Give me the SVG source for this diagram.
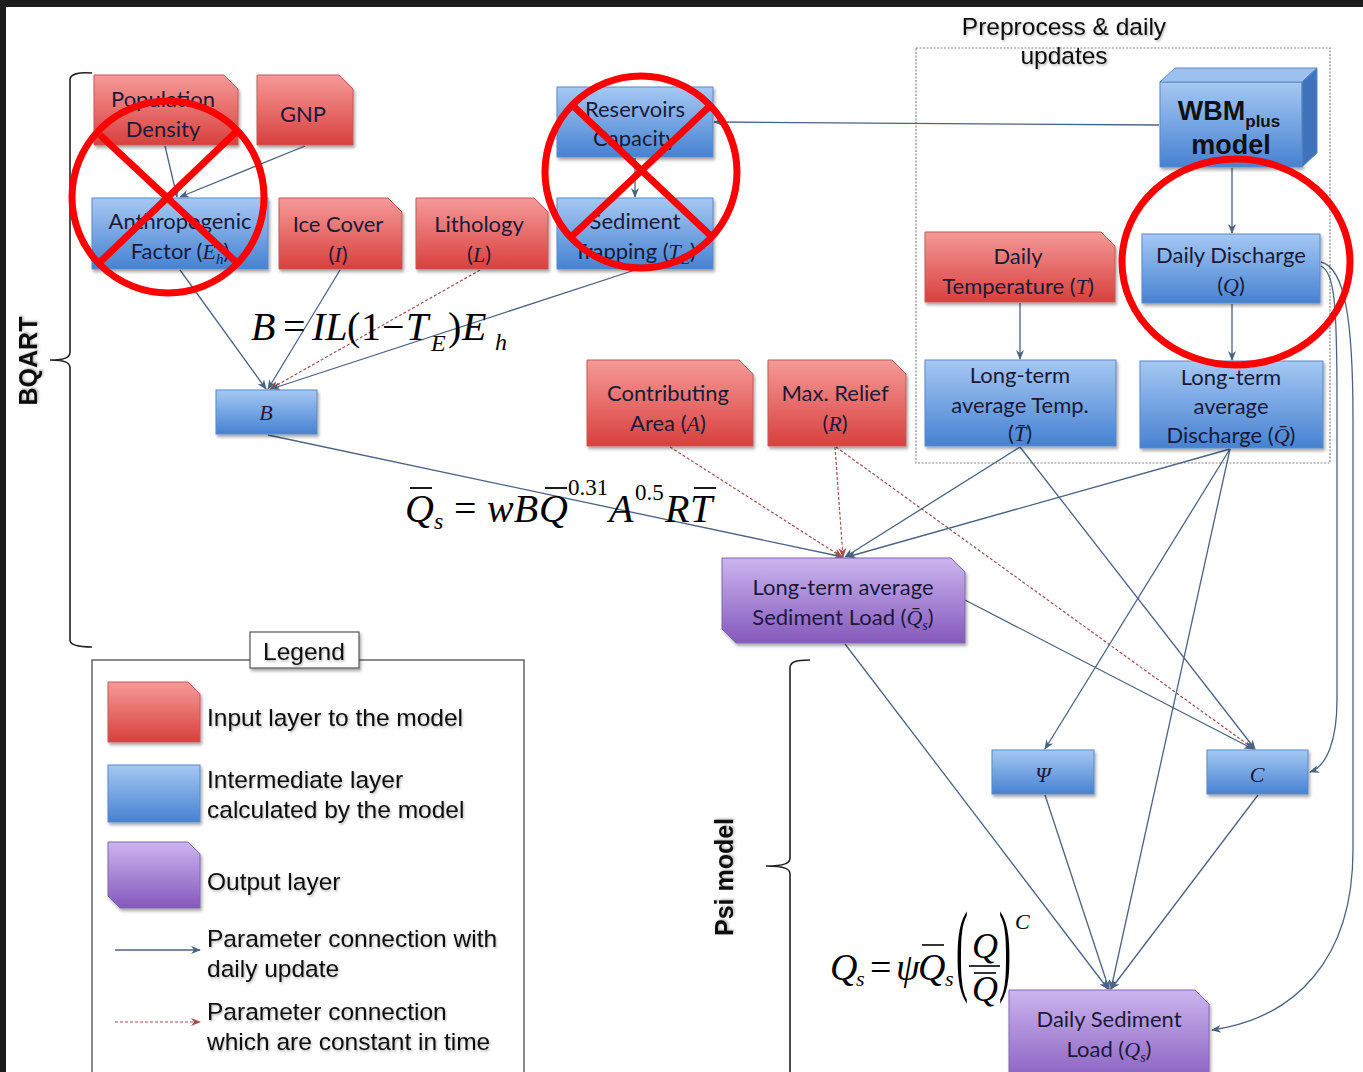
<svg xmlns="http://www.w3.org/2000/svg" width="1363" height="1072" viewBox="0 0 1363 1072">
<style>
.red{fill:url(#gRed);stroke:#c45a57;stroke-width:1;filter:url(#sh)}
.blue{fill:url(#gBlue);stroke:#5a8ac6;stroke-width:1;filter:url(#sh)}
.pur{fill:url(#gPur);stroke:#8466b2;stroke-width:1;filter:url(#sh)}
.nt{font-family:Lato,"Noto Sans",sans-serif;font-size:22px;fill:#1a1a38;text-anchor:middle}
.mi{font-family:"Liberation Serif",serif;font-style:italic}
.c{fill:none;stroke:#4b6383;stroke-width:1.3;marker-end:url(#arr)}
.d{fill:none;stroke:#a05050;stroke-width:1.2;stroke-dasharray:3 2;marker-end:url(#arrR)}
.lg{font-family:"Liberation Sans",Arial,sans-serif;font-size:24.5px;fill:#111;filter:url(#ts)}
.fm{font-family:"Liberation Serif","Times New Roman",serif;fill:#000}
.x{fill:none;stroke:#ff0000;stroke-width:7}
.br{fill:none;stroke:#222;stroke-width:1.6}
.bt{font-family:"Liberation Sans",Arial,sans-serif;font-size:25px;font-weight:bold;fill:#111;text-anchor:middle;filter:url(#ts)}
</style>
<defs>
<linearGradient id="gRed" x1="0" y1="0" x2="0" y2="1"><stop offset="0" stop-color="#f59a98"/><stop offset="1" stop-color="#d8403d"/></linearGradient>
<linearGradient id="gBlue" x1="0" y1="0" x2="0" y2="1"><stop offset="0" stop-color="#a6c8f3"/><stop offset="1" stop-color="#4682d2"/></linearGradient>
<linearGradient id="gPur" x1="0" y1="0" x2="0" y2="1"><stop offset="0" stop-color="#cbb5ee"/><stop offset="1" stop-color="#8458bc"/></linearGradient>
<filter id="sh" x="-10%" y="-10%" width="125%" height="130%"><feDropShadow dx="1.5" dy="2.5" stdDeviation="1.8" flood-color="#000" flood-opacity="0.35"/></filter>
<filter id="ts" x="-5%" y="-20%" width="110%" height="150%"><feDropShadow dx="1" dy="1.5" stdDeviation="1" flood-color="#000" flood-opacity="0.3"/></filter>
<marker id="arr" viewBox="0 0 10 10" refX="9" refY="5" markerWidth="10" markerHeight="10" markerUnits="userSpaceOnUse" orient="auto"><path d="M0,1 L10,5 L0,9 L3,5 z" fill="#4b6383"/></marker>
<marker id="arrR" viewBox="0 0 10 10" refX="9" refY="5" markerWidth="10" markerHeight="10" markerUnits="userSpaceOnUse" orient="auto"><path d="M0,1 L10,5 L0,9 L3,5 z" fill="#a05050"/></marker>
</defs>
<rect x="0" y="0" width="1363" height="1072" fill="#fff"/>
<rect x="0" y="0" width="1363" height="7" fill="#1c1c1c"/>
<rect x="0" y="0" width="6" height="1072" fill="#1c1c1c"/>

<g id="brackets">
<path class="br" d="M92,73 C78,72 70,74 70,80 V352 C70,357 66,360 50,360 C66,360 70,363 70,368 V640 C70,645 78,647 92,647"/>
<text class="bt" x="37" y="361" transform="rotate(-90 37 361)">BQART</text>
<path class="br" d="M810,660 C795,660 790,662 790,668 V858 C790,863 785,866 766,866 C785,866 790,869 790,874 V1072"/>
<text class="bt" x="733" y="877" transform="rotate(-90 733 877)">Psi model</text>
</g>

<g id="preprocess">
<rect x="916" y="48" width="414" height="415" fill="none" stroke="#888" stroke-width="1.2" stroke-dasharray="2 1.5"/>
<text class="lg" x="1064" y="35" text-anchor="middle">Preprocess &amp; daily</text>
<text class="lg" x="1064" y="64" text-anchor="middle">updates</text>
</g>

<g id="connectors">
<line class="c" x1="165" y1="146" x2="177" y2="197"/>
<line class="c" x1="305" y1="146" x2="180" y2="197"/>
<line class="c" x1="635" y1="158" x2="635" y2="197"/>
<line class="c" x1="1159" y1="125" x2="714" y2="122"/>
<line class="c" x1="1232" y1="168" x2="1232" y2="233"/>
<line class="c" x1="1020" y1="303" x2="1020" y2="359"/>
<line class="c" x1="1232" y1="304" x2="1232" y2="360"/>
<line class="c" x1="180" y1="270" x2="266" y2="389"/>
<line class="c" x1="340" y1="270" x2="268" y2="389"/>
<line class="d" x1="480" y1="270" x2="270" y2="389"/>
<line class="c" x1="635" y1="270" x2="271" y2="389"/>
<line class="c" x1="268" y1="435" x2="843" y2="557"/>
<line class="d" x1="670" y1="447" x2="842" y2="557"/>
<line class="d" x1="835" y1="447" x2="843" y2="557"/>
<line class="c" x1="1020" y1="447" x2="845" y2="557"/>
<line class="c" x1="1230" y1="449" x2="847" y2="557"/>
<line class="d" x1="836" y1="447" x2="1254" y2="749"/>
<line class="c" x1="1020" y1="447" x2="1255" y2="749"/>
<line class="c" x1="965" y1="600" x2="1253" y2="749"/>
<line class="c" x1="1230" y1="449" x2="1045" y2="749"/>
<line class="c" x1="1230" y1="449" x2="1111" y2="989"/>
<line class="c" x1="845" y1="644" x2="1108" y2="989"/>
<line class="c" x1="1045" y1="795" x2="1109" y2="989"/>
<line class="c" x1="1258" y1="795" x2="1111" y2="989"/>
<path class="c" d="M1321,266 C1334,272 1337,300 1337,400 L1337,700 C1337,740 1327,766 1310,772"/>
<path class="c" d="M1321,262 C1345,268 1353,320 1353,420 L1353,850 C1353,960 1295,1018 1212,1030"/>
</g>

<g id="n-popdens"><path class="red" d="M94,75 H224 L238,89 V145 H94 Z"/><text class="nt" x="163" y="107">Population</text><text class="nt" x="163" y="137">Density</text></g>
<g id="n-gnp"><path class="red" d="M257,75 H339 L353,89 V145 H257 Z"/><text class="nt" x="303" y="122">GNP</text></g>
<g id="n-reservoirs"><rect class="blue" x="557" y="87" width="156" height="70"/><text class="nt" x="635" y="117">Reservoirs</text><text class="nt" x="635" y="146">Capacity</text></g>
<g id="n-anthro"><rect class="blue" x="92" y="198" width="176" height="71"/><text class="nt" x="180" y="229">Anthropogenic</text><text class="nt" x="180" y="259">Factor (<tspan class="mi">E</tspan><tspan class="mi" font-size="15" dy="5">h</tspan><tspan dy="-5">)</tspan></text></g>
<g id="n-ice"><path class="red" d="M279,198 H388 L402,212 V269 H279 Z"/><text class="nt" x="338" y="232">Ice Cover</text><text class="nt" x="338" y="262">(<tspan class="mi">I</tspan>)</text></g>
<g id="n-litho"><path class="red" d="M416,198 H534 L548,212 V269 H416 Z"/><text class="nt" x="479" y="232">Lithology</text><text class="nt" x="479" y="262">(<tspan class="mi">L</tspan>)</text></g>
<g id="n-trap"><rect class="blue" x="557" y="198" width="156" height="71"/><text class="nt" x="635" y="229">Sediment</text><text class="nt" x="635" y="259">Trapping (<tspan class="mi">T</tspan><tspan class="mi" font-size="15" dy="5">E</tspan><tspan dy="-5">)</tspan></text></g>
<g id="n-b"><rect class="blue" x="216" y="390" width="101" height="44"/><text class="nt mi" x="266" y="420">B</text></g>
<g id="n-area"><path class="red" d="M587,360 H739 L753,374 V446 H587 Z"/><text class="nt" x="668" y="401">Contributing</text><text class="nt" x="668" y="431">Area (<tspan class="mi">A</tspan>)</text></g>
<g id="n-relief"><path class="red" d="M768,360 H892 L906,374 V446 H768 Z"/><text class="nt" x="835" y="401">Max. Relief</text><text class="nt" x="835" y="431">(<tspan class="mi">R</tspan>)</text></g>
<g id="n-wbm">
<rect x="1160" y="82" width="142" height="85" fill="url(#gBlue)" stroke="#5a8ac6" filter="url(#sh)"/>
<polygon points="1160,82 1175,68 1317,68 1302,82" fill="#9cc0ef" stroke="#5a8ac6"/>
<polygon points="1302,82 1317,68 1317,153 1302,167" fill="#3f73bb" stroke="#5a8ac6"/>
<text x="1229" y="120" text-anchor="middle" font-family="Liberation Sans,Arial,sans-serif" font-weight="bold" font-size="27" fill="#111">WBM<tspan font-size="17" dy="7">plus</tspan></text>
<text x="1231" y="154" text-anchor="middle" font-family="Liberation Sans,Arial,sans-serif" font-weight="bold" font-size="27" fill="#111">model</text>
</g>
<g id="n-dtemp"><path class="red" d="M925,232 H1101 L1115,246 V302 H925 Z"/><text class="nt" x="1018" y="264">Daily</text><text class="nt" x="1018" y="294">Temperature (<tspan class="mi">T</tspan>)</text></g>
<g id="n-ddis"><rect class="blue" x="1142" y="234" width="178" height="69"/><text class="nt" x="1231" y="263">Daily Discharge</text><text class="nt" x="1231" y="293">(<tspan class="mi">Q</tspan>)</text></g>
<g id="n-lttemp"><rect class="blue" x="925" y="360" width="191" height="86"/><text class="nt" x="1020" y="383">Long-term</text><text class="nt" x="1020" y="413">average Temp.</text><text class="nt" x="1020" y="441">(<tspan class="mi">T̄</tspan>)</text></g>
<g id="n-ltdis"><rect class="blue" x="1140" y="361" width="183" height="87"/><text class="nt" x="1231" y="385">Long-term</text><text class="nt" x="1231" y="414">average</text><text class="nt" x="1231" y="443">Discharge (<tspan class="mi">Q̄</tspan>)</text></g>
<g id="n-ltsl"><path class="pur" d="M722,558 H951 L965,572 V643 H736 L722,629 Z"/><text class="nt" x="843" y="595">Long-term average</text><text class="nt" x="843" y="625">Sediment Load (<tspan class="mi">Q̄</tspan><tspan class="mi" font-size="14" dy="5">s</tspan><tspan dy="-5">)</tspan></text></g>
<g id="n-psi"><rect class="blue" x="992" y="750" width="102" height="44"/><text class="nt mi" x="1043" y="782">Ψ</text></g>
<g id="n-c"><rect class="blue" x="1207" y="750" width="101" height="44"/><text class="nt mi" x="1257" y="782">C</text></g>
<g id="n-dsl"><path class="pur" d="M1009,990 H1195 L1209,1004 V1090 H1009 Z"/><text class="nt" x="1109" y="1027">Daily Sediment</text><text class="nt" x="1109" y="1057">Load (<tspan class="mi">Q</tspan><tspan class="mi" font-size="14" dy="5">s</tspan><tspan dy="-5">)</tspan></text></g>

<g id="formulas" class="fm">
<text font-size="40" y="340"><tspan x="251" font-style="italic">B</tspan><tspan x="283">=</tspan><tspan x="312" font-style="italic">IL</tspan><tspan x="347">(</tspan><tspan x="361">1</tspan><tspan x="382">−</tspan><tspan x="406" font-style="italic">T</tspan><tspan x="431" dy="11" font-size="24" font-style="italic">E</tspan><tspan x="448" dy="-11">)</tspan><tspan x="462" font-style="italic">E</tspan><tspan x="495" dy="10" font-size="24" font-style="italic">h</tspan></text>
<text font-size="40" y="522"><tspan x="405" font-style="italic">Q</tspan><tspan x="434" dy="7" font-size="24" font-style="italic">s</tspan><tspan x="454" dy="-7">=</tspan><tspan x="487" font-style="italic">wB</tspan><tspan x="539" font-style="italic">Q</tspan><tspan x="568" dy="-27" font-size="23">0.31</tspan><tspan x="609" dy="27" font-style="italic">A</tspan><tspan x="635" dy="-22" font-size="23">0.5</tspan><tspan x="665" dy="22" font-style="italic">R</tspan><tspan x="690" font-style="italic">T</tspan></text>
<line x1="410" y1="488" x2="432" y2="488" stroke="#000" stroke-width="1.8"/>
<line x1="545" y1="488" x2="567" y2="488" stroke="#000" stroke-width="1.8"/>
<line x1="694" y1="488" x2="716" y2="488" stroke="#000" stroke-width="1.8"/>
<text font-size="38" y="980"><tspan x="830" font-style="italic">Q</tspan><tspan x="856" dy="6" font-size="22" font-style="italic">s</tspan><tspan x="870" dy="-6">=</tspan><tspan x="896" font-style="italic">ψ</tspan><tspan x="918" font-style="italic">Q</tspan><tspan x="945" dy="6" font-size="22" font-style="italic">s</tspan></text>
<line x1="922" y1="945" x2="944" y2="945" stroke="#000" stroke-width="1.6"/>
<text font-size="36" transform="translate(956,982) scale(1,2.8)">(</text>
<text font-size="36" transform="translate(999,982) scale(1,2.8)">)</text>
<text font-size="36" x="972" y="958" font-style="italic">Q</text>
<line x1="969" y1="966" x2="1000" y2="966" stroke="#000" stroke-width="1.6"/>
<line x1="974" y1="973" x2="996" y2="973" stroke="#000" stroke-width="1.6"/>
<text font-size="36" x="972" y="1001" font-style="italic">Q</text>
<text font-size="22" x="1015" y="929" font-style="italic">C</text>
</g>

<g id="legend">
<rect x="92" y="660" width="432" height="420" fill="none" stroke="#666" stroke-width="1.5"/>
<rect x="250" y="632" width="109" height="36" fill="#fff" stroke="#555" stroke-width="1.2" filter="url(#sh)"/>
<text class="lg" x="304" y="660" text-anchor="middle">Legend</text>
<path class="red" d="M108,682 H188 L200,694 V742 H108 Z"/>
<text class="lg" x="207" y="726">Input layer to the model</text>
<rect class="blue" x="108" y="765" width="92" height="57"/>
<text class="lg" x="207" y="788">Intermediate layer</text>
<text class="lg" x="207" y="818">calculated by the model</text>
<path class="pur" d="M108,842 H188 L200,854 V908 H120 L108,896 Z"/>
<text class="lg" x="207" y="890">Output layer</text>
<line class="c" x1="115" y1="950" x2="200" y2="950"/>
<text class="lg" x="207" y="947">Parameter connection with</text>
<text class="lg" x="207" y="977">daily update</text>
<line class="d" x1="115" y1="1022" x2="200" y2="1022"/>
<text class="lg" x="207" y="1020">Parameter connection</text>
<text class="lg" x="207" y="1050">which are constant in time</text>
</g>

<g id="annotations">
<circle class="x" cx="168" cy="197" r="96"/>
<line class="x" x1="100" y1="135" x2="236" y2="262"/>
<line class="x" x1="236" y1="132" x2="100" y2="262"/>
<circle class="x" cx="641" cy="172" r="96"/>
<line class="x" x1="570" y1="103" x2="711" y2="236"/>
<line class="x" x1="711" y1="105" x2="572" y2="236"/>
<ellipse class="x" cx="1236" cy="262" rx="114" ry="103"/>
</g>
</svg>
